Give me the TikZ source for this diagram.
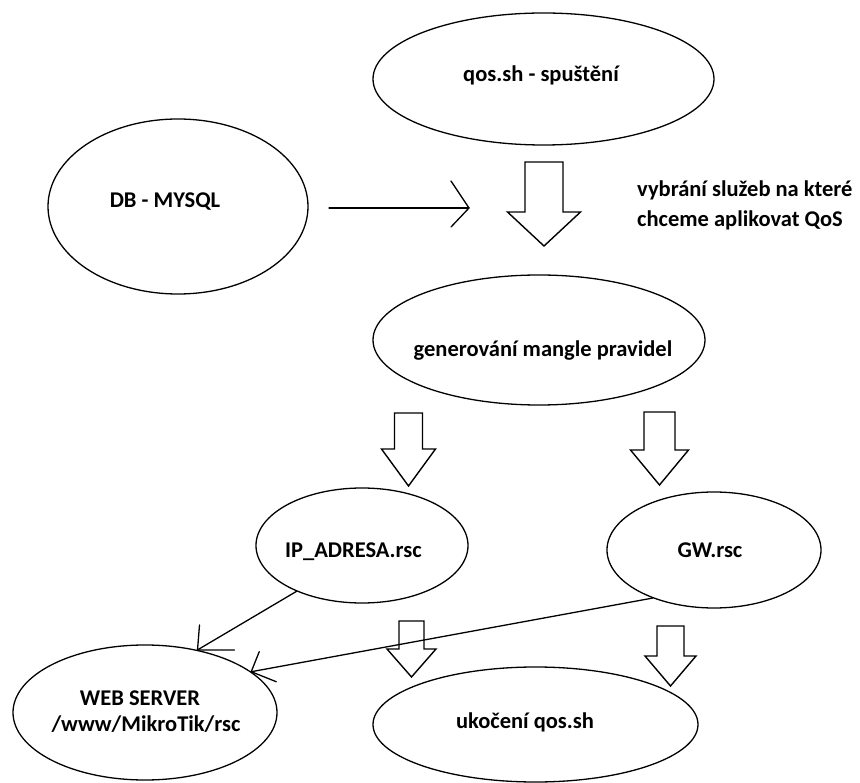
\documentclass[tikz,border=0pt]{standalone}
\usepackage{fontspec}
\setmainfont{Carlito}
\usetikzlibrary{shapes.geometric}

% hollow block arrow pointing down: centre x, shaft half width, head half width,
% shaft top, shoulder, tip
\newcommand{\blockdown}[6]{%
  \draw[block] (#1-#2,#4) -- (#1+#2,#4) -- (#1+#2,#5) -- (#1+#3,#5)
    -- (#1,#6) -- (#1-#3,#5) -- (#1-#2,#5) -- cycle;}

\tikzset{
  bubble/.style={draw, ellipse, inner sep=0pt, line width=1.3pt},
  lbl/.style={anchor=base, inner sep=0pt, text=black,
              font=\bfseries\fontsize{22.5}{27}\selectfont},
  wire/.style={line width=1.3pt, line cap=round},
  block/.style={line width=1.4pt, line join=miter},
}

\begin{document}
\begin{tikzpicture}[x=1pt, y=-1pt]
  \fill[white] (0,0) rectangle (860,783);
  \useasboundingbox (0,0) rectangle (860,783);

  % process stages
  \node[bubble, minimum width=341pt, minimum height=132pt] (start) at (543.5,79) {};
  \node[bubble, minimum width=260pt, minimum height=175pt] (db)    at (178,206.5) {};
  \node[bubble, minimum width=332pt, minimum height=130pt] (gen)   at (539,340) {};
  \node[bubble, minimum width=212pt, minimum height=115pt] (ip)    at (362,545.5) {};
  \node[bubble, minimum width=214pt, minimum height=116pt] (gw)    at (714,550) {};
  \node[bubble, minimum width=264pt, minimum height=135pt] (web)   at (145,712.5) {};
  \node[bubble, minimum width=325pt, minimum height=115pt] (stop)  at (535.5,724.5) {};

  % captions
  \node[lbl] (start-t) at (541,82)    {qos.sh - spuštění};
  \node[lbl] (db-t)    at (165,208)   {DB - MYSQL};
  \node[lbl, anchor=base west] (note-1) at (637,197) {vybrání služeb na které};
  \node[lbl, anchor=base west] (note-2) at (637,227) {chceme aplikovat QoS};
  \node[lbl] (gen-t)   at (543,357)   {generování mangle pravidel};
  \node[lbl] (ip-t)    at (353.5,557) {IP\_ADRESA.rsc};
  \node[lbl] (gw-t)    at (710,557)   {GW.rsc};
  \node[lbl] (web-t1)  at (140,705)   {WEB SERVER};
  \node[lbl] (web-t2)  at (146,731)   {/www/MikroTik/rsc};
  \node[lbl] (stop-t)  at (525,728)   {ukočení qos.sh};

  % flow arrows
  \blockdown{544}{19}{36.5}{162}{212}{246}
  \blockdown{408.5}{14}{27}{413}{449}{486}
  \blockdown{659.5}{15.5}{29}{412}{450}{485}
  \blockdown{411.5}{12.5}{24.5}{621}{649}{677}
  \blockdown{670.5}{13.5}{25.5}{626}{656}{686}

  % database input
  \coordinate (dbtail) at (329,208);
  \coordinate (dbhead) at (469,208);
  \draw[wire] (dbtail) -- (dbhead);
  \draw[wire] (dbhead) -- ++(-18,-27) (dbhead) -- ++(-18,19);

  % uploads to the web server
  \coordinate (tip1) at (web.50);
  \draw[wire] (ip.215) -- (tip1);
  \draw[wire] (tip1) -- ++(2,-25) (tip1) -- ++(37,0);

  \coordinate (tip2) at (web.21);
  \draw[wire] (gw.218) -- (tip2);
  \draw[wire] (tip2) -- ++(8,-20) (tip2) -- ++(25,10);
\end{tikzpicture}
\end{document}
